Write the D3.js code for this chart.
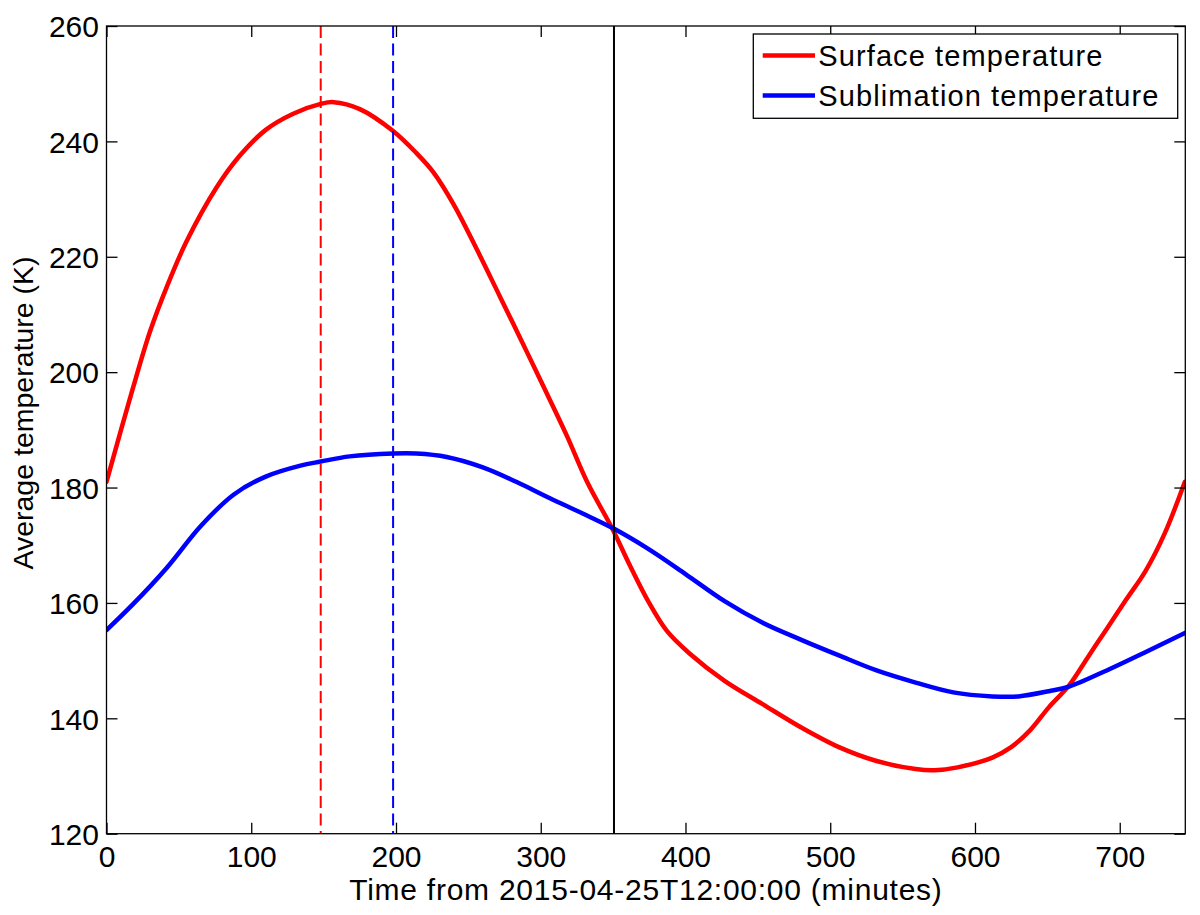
<!DOCTYPE html>
<html>
<head>
<meta charset="utf-8">
<script src="https://cdn.jsdelivr.net/npm/d3@7"></script>
<style>
  html, body { margin: 0; padding: 0; background: #fff; }
  svg { display: block; }
  text { font-family: "Liberation Sans", Arial, Helvetica, sans-serif; fill: #000; }
</style>
</head>
<body>
<svg id="chart" width="1200" height="915"></svg>
<script>
// ---- Data ----
const surfaceMinutes = [0, 18, 30, 42, 55, 76, 92, 110, 129, 148, 157, 175, 198, 214, 226, 240, 256, 272, 286, 300, 318, 332, 350, 361, 374, 387, 403, 427, 453, 480, 506, 532, 559, 572, 588, 612, 625, 638, 651, 665, 678, 691, 704, 718, 731, 745];
const surfaceTemp    = [181, 197, 207, 215, 222.5, 232, 237.5, 242, 244.8, 246.5, 246.8, 245.6, 241.8, 238, 234.6, 229, 221.2, 213, 205.8, 198.5, 189, 181, 172.6, 166.8, 160.4, 155.2, 151.2, 146.5, 142.5, 138.4, 135, 132.6, 131.2, 131, 131.5, 133.2, 135, 137.9, 141.9, 145.7, 150.6, 155.5, 160.4, 165.6, 172, 181];

const sublimationMinutes = [0, 18, 42, 65, 88, 110, 134, 148, 168, 198, 214, 235, 260, 283, 306, 329, 351, 374, 400, 427, 453, 480, 506, 532, 559, 585, 612, 630, 651, 665, 691, 718, 745];
const sublimationTemp    = [155.3, 159.7, 166.2, 173.3, 178.8, 181.9, 183.8, 184.5, 185.4, 185.9, 185.9, 185.3, 183.5, 181, 178.2, 175.5, 172.8, 169.4, 165, 160.3, 156.6, 153.6, 150.9, 148.3, 146.2, 144.5, 143.8, 143.8, 144.7, 145.5, 148.3, 151.5, 154.8];

const seriesNames = ["Surface temperature", "Sublimation temperature"];
const seriesColors = ["#ff0000", "#0000ff"];

const markerMinutes = [148, 198, 350.6];
const markerColors = ["#ff0000", "#0000ff", "#000000"];
const markerDashed = [true, true, false];

const xTicks = [0, 100, 200, 300, 400, 500, 600, 700];
const yTicks = [120, 140, 160, 180, 200, 220, 240, 260];
const xDomain = [0, 745.3];
const yDomain = [120, 260];

const xLabel = "Time from 2015-04-25T12:00:00 (minutes)";
const yLabel = "Average temperature (K)";

// ---- Layout ----
const L = 106.5, R = 1185.3, T = 26, B = 833.7;
const svg = d3.select("#chart");
const x = d3.scaleLinear().domain(xDomain).range([L, R]);
const y = d3.scaleLinear().domain(yDomain).range([B, T]);

svg.append("defs").append("clipPath").attr("id", "plotclip")
  .append("rect").attr("x", L).attr("y", T).attr("width", R - L).attr("height", B - T);

const series = [
  { name: seriesNames[0], color: seriesColors[0], data: surfaceMinutes.map((m, i) => [m, surfaceTemp[i]]) },
  { name: seriesNames[1], color: seriesColors[1], data: sublimationMinutes.map((m, i) => [m, sublimationTemp[i]]) }
];

const line = d3.line().x(d => x(d[0])).y(d => y(d[1])).curve(d3.curveCatmullRom.alpha(0.5));

const plot = svg.append("g").attr("clip-path", "url(#plotclip)");
series.forEach(s => {
  plot.append("path").attr("d", line(s.data))
    .attr("fill", "none").attr("stroke", s.color)
    .attr("stroke-width", 4.5).attr("stroke-linejoin", "round").attr("stroke-linecap", "round");
});

markerMinutes.forEach((m, i) => {
  plot.append("line")
    .attr("x1", x(m)).attr("x2", x(m)).attr("y1", T).attr("y2", B)
    .attr("stroke", markerColors[i]).attr("stroke-width", 2)
    .attr("stroke-dasharray", markerDashed[i] ? "12,5.5" : null);
});

// ---- Axes (box with inward ticks on all sides) ----
const tickLen = 11;
const bottomAxis = d3.axisBottom(x).tickValues(xTicks).tickSizeInner(-tickLen).tickSizeOuter(0).tickPadding(12);
const topAxis = d3.axisTop(x).tickValues(xTicks).tickSizeInner(-tickLen).tickSizeOuter(0).tickFormat("");
const leftAxis = d3.axisLeft(y).tickValues(yTicks).tickSizeInner(-tickLen).tickSizeOuter(0).tickPadding(7.5);
const rightAxis = d3.axisRight(y).tickValues(yTicks).tickSizeInner(-tickLen).tickSizeOuter(0).tickFormat("");

function styleAxis(g) {
  g.select(".domain").remove();
  g.selectAll(".tick line").attr("stroke", "#000").attr("stroke-width", 1.3);
  g.selectAll("text").attr("font-size", "30px").attr("fill", "#000")
    .style("font-family", "'Liberation Sans', Arial, sans-serif");
}
svg.append("g").attr("transform", `translate(0,${B})`).call(bottomAxis).call(styleAxis);
svg.append("g").attr("transform", `translate(0,${T})`).call(topAxis).call(styleAxis);
svg.append("g").attr("transform", `translate(${L},0)`).call(leftAxis).call(styleAxis)
  .selectAll("text").attr("dy", "0.36em");
svg.append("g").attr("transform", `translate(${R},0)`).call(rightAxis).call(styleAxis);

svg.append("rect").attr("x", L).attr("y", T).attr("width", R - L).attr("height", B - T)
  .attr("fill", "none").attr("stroke", "#000").attr("stroke-width", 1.3);

// ---- Axis labels ----
svg.append("text").attr("x", (L + R) / 2).attr("y", 900)
  .attr("text-anchor", "middle").attr("font-size", "30px").style("letter-spacing", "0.75px")
  .text(xLabel);
svg.append("text").attr("transform", `translate(33,413) rotate(-90)`)
  .attr("text-anchor", "middle").attr("font-size", "28.5px")
  .text(yLabel);

// ---- Legend ----
const lg = svg.append("g");
lg.append("rect").attr("x", 753.3).attr("y", 34).attr("width", 1177.7 - 753.3).attr("height", 118.3 - 34)
  .attr("fill", "#fff").attr("stroke", "#000").attr("stroke-width", 1.3);
const legendRowY = [55.5, 95.5];
series.forEach((s, i) => {
  lg.append("line").attr("x1", 762.7).attr("x2", 815).attr("y1", legendRowY[i]).attr("y2", legendRowY[i])
    .attr("stroke", s.color).attr("stroke-width", 4.5);
  lg.append("text").attr("x", 818.3).attr("y", legendRowY[i]).attr("dy", "0.36em")
    .attr("font-size", "29px").style("letter-spacing", "1.1px").text(s.name);
});
</script>
</body>
</html>
